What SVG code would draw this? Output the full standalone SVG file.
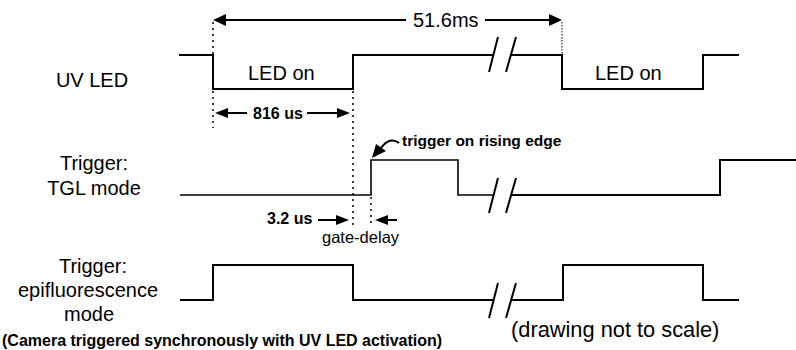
<svg xmlns="http://www.w3.org/2000/svg" width="796" height="350" viewBox="0 0 796 350">
<style>
.wave{fill:none;stroke:#000;stroke-width:2;stroke-linejoin:miter}
.brk{fill:none;stroke:#000;stroke-width:2}
.dim{fill:none;stroke:#000;stroke-width:2}
.dot{fill:none;stroke:#000;stroke-width:1.5;stroke-dasharray:2 4}
.fdot{fill:none;stroke:#000;stroke-width:1;stroke-dasharray:1.5 1.5}
.lbl{font-family:"Liberation Sans",Arial,sans-serif;font-size:20px;fill:#000}
.b{font-family:"Liberation Sans",Arial,sans-serif;font-weight:bold;font-size:16px;fill:#000}
.ah{fill:#000}
</style>
<rect width="796" height="350" fill="#fff"/>
<g id="uv-led">
<text class="lbl" x="92" y="87" text-anchor="middle">UV LED</text>
<polyline class="wave" points="179,55 213,55 213,89 353,89 353,55 494,55"/>
<polyline class="wave" points="511,55 562,55 562,89 703,89 703,55 739,55"/>
<line class="brk" x1="489" y1="72" x2="498" y2="37"/>
<line class="brk" x1="506" y1="72" x2="516" y2="37"/>
<text class="lbl" x="248" y="80">LED on</text>
<text class="lbl" x="595" y="80">LED on</text>
</g>
<g id="tgl">
<text class="lbl" x="94" y="170" text-anchor="middle">Trigger:</text>
<text class="lbl" x="94" y="195" text-anchor="middle">TGL mode</text>
<polyline class="wave" points="180,195 371,195 371,160 458,160 458,195 494,195" style="stroke-width:1.6"/>
<polyline class="wave" points="511,195 720,195 720,160 796,160"/>
<line class="brk" x1="489" y1="213" x2="498" y2="178"/>
<line class="brk" x1="506" y1="213" x2="516" y2="178"/>
</g>
<g id="epi">
<text class="lbl" x="93" y="273" text-anchor="middle">Trigger:</text>
<text class="lbl" x="88" y="297" text-anchor="middle">epifluorescence</text>
<text class="lbl" x="89" y="321" text-anchor="middle">mode</text>
<polyline class="wave" points="180,300 213,300 213,265 353,265 353,300 494,300"/>
<polyline class="wave" points="511,300 563,300 563,265 703,265 703,300 739,300"/>
<line class="brk" x1="489" y1="318" x2="498" y2="283"/>
<line class="brk" x1="506" y1="318" x2="516" y2="283"/>
</g>
<g id="connectors">
<line class="dot" x1="213" y1="22" x2="213" y2="55"/>
<line class="dot" x1="213" y1="91" x2="213" y2="128"/>
<line class="fdot" x1="562" y1="22" x2="562" y2="55"/>
<line class="dot" x1="353" y1="91" x2="353" y2="226"/>
<line class="dot" x1="371" y1="197" x2="371" y2="226"/>
<line class="dim" x1="222" y1="20" x2="406" y2="20"/>
<polygon class="ah" points="213,20 226,14 226,26"/>
<line class="dim" x1="485" y1="20" x2="552" y2="20"/>
<polygon class="ah" points="562,20 549,14 549,26"/>
<text class="lbl" x="413" y="27">51.6ms</text>
<line class="dim" x1="222" y1="113" x2="247" y2="113"/>
<polygon class="ah" points="215,113 228,108 228,118"/>
<line class="dim" x1="307" y1="113" x2="342" y2="113"/>
<polygon class="ah" points="350,113 337,108 337,118"/>
<text class="b" x="253" y="119">816 us</text>
<text class="b" x="267" y="224">3.2 us</text>
<line class="dim" x1="318" y1="220" x2="338" y2="220"/>
<polygon class="ah" points="349,220 336,215 336,225"/>
<line class="dim" x1="385" y1="220" x2="397" y2="220"/>
<polygon class="ah" points="375,220 388,215 388,225"/>
<text class="lbl" x="322" y="243" style="font-size:16.5px">gate-delay</text>
<path class="dim" d="M399,143 Q390,136 381,148"/>
<polygon class="ah" points="372,158 376,144 386,151"/>
<text class="b" x="402" y="146" style="font-size:15.5px">trigger on rising edge</text>
<text class="b" x="2" y="346">(Camera triggered synchronously with UV LED activation)</text>
<text class="lbl" x="511" y="337" style="font-size:21.8px">(drawing not to scale)</text>
</g>
</svg>
